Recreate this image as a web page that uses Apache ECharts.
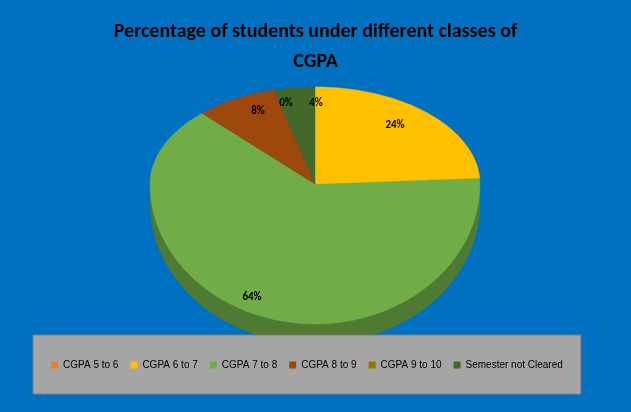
<!DOCTYPE html><html><head><meta charset="utf-8">
<script src="https://cdn.jsdelivr.net/npm/echarts@6/dist/echarts.min.js"></script>
<style>html,body{margin:0;padding:0;background:#0070C0}#c{width:631px;height:412px}</style></head><body><div id="c"></div>
<script>
var categories=['CGPA 5 to 6','CGPA 6 to 7','CGPA 7 to 8','CGPA 8 to 9','CGPA 9 to 10','Semester not Cleared'];
var values=[0,24,64,8,0,4];
var labels=['','24%','64%','8%','0%','4%'];
var colors=['#ED7D31','#FFC000','#70AD47','#9E480E','#997300','#43682B'];
var dark=['#a85520','#b38600','#4e7a31','#6e3209','#6b5000','#2e481d'];
var total=values.reduce(function(a,b){return a+b},0);
var cx=315,cy=184,rx=165,ryT=97,ryB=140,depth=20;
function pt(t,dy){var c=Math.cos(t);return [cx+rx*Math.sin(t),cy-(c>0?ryT:ryB)*c+(dy||0)];}
function render(i){return function(params,api){
  var s=0;for(var k=0;k<i;k++)s+=values[k];
  var a0=s/total*2*Math.PI,a1=(s+values[i])/total*2*Math.PI;
  var ch=[];
  var w0=Math.max(a0,Math.PI/2),w1=Math.min(a1,3*Math.PI/2);
  if(w1>w0){var top=[],bot=[];for(var j=0;j<=40;j++){var t=w0+(w1-w0)*j/40;top.push(pt(t));bot.unshift(pt(t,depth));}
    ch.push({type:'polygon',shape:{points:top.concat(bot)},style:{fill:dark[i]},z2:1});}
  if(values[i]>0){var p=[[cx,cy]];for(var j=0;j<=60;j++)p.push(pt(a0+(a1-a0)*j/60));
    ch.push({type:'polygon',shape:{points:p},style:{fill:colors[i],stroke:colors[i],lineWidth:0.5},z2:2});}
  if(labels[i]){var m=(a0+a1)/2;
    var lp=[cx+rx*0.75*Math.sin(m),cy-ryT*0.85*Math.cos(m)];
    if(i==2)lp=[252,297];if(i==1)lp=[395,125];
    if(i==4)lp=[286,103];if(i==5)lp=[316,103];if(i==3)lp=[258,111];
    ch.push({type:'text',style:{text:labels[i],x:lp[0],y:lp[1],fill:'#000',font:'bold 11px Carlito, Calibri, "Liberation Sans", sans-serif',align:'center',verticalAlign:'middle'},z2:5});}
  return {type:'group',children:ch};
};}
var series=categories.map(function(n,i){return {type:'custom',name:n,coordinateSystem:'none',data:[[i,values[i]]],renderItem:render(i),itemStyle:{color:colors[i]},z:i==2?1:2};});
var chart=echarts.init(document.getElementById('c'));
chart.setOption({backgroundColor:'#0070C0',animation:false,
 title:{text:'Percentage of students under different classes of\nCGPA',left:'center',top:12,textStyle:{fontSize:20,fontWeight:'bold',color:'#000',fontFamily:'Carlito, "Liberation Sans", sans-serif',lineHeight:30}},
 legend:{left:33,top:335,width:542,padding:[25,18,24,18],itemGap:12,backgroundColor:'#A5A5A5',borderColor:'#7f7f7f',borderWidth:1,itemWidth:7,itemHeight:7,icon:'rect',textStyle:{fontSize:10,color:'#000',fontFamily:'"Liberation Sans", sans-serif'},data:categories,z:10},
 series:series});
</script></body></html>
